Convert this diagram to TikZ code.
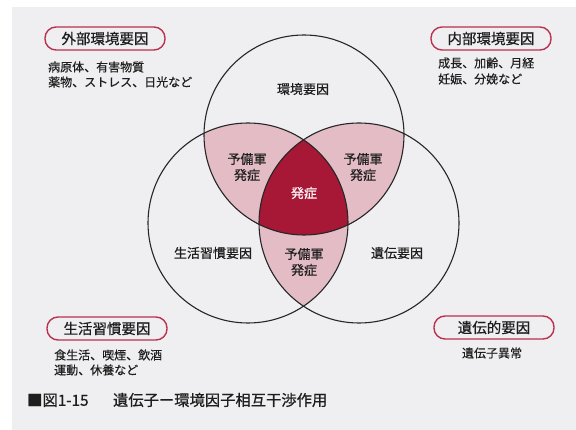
\documentclass[tikz,border=0pt]{standalone}
\usepackage{fontspec}
\setmainfont{Noto Sans CJK JP}
\newfontfamily\medfont{Noto Sans CJK JP}[FakeBold=0.6]
\newfontfamily\semfont{Noto Sans CJK JP}[FakeBold=0.3]
\definecolor{bgray}{RGB}{239,239,241}
\definecolor{pinkfill}{RGB}{228,188,198}
\definecolor{darkred}{RGB}{166,24,54}
\definecolor{tagred}{RGB}{186,48,78}
\definecolor{txt}{RGB}{30,30,30}
\begin{document}
\begin{tikzpicture}[x=1pt,y=-1pt,
  circ/.style={draw=black!85,line width=1.1pt},
  tag/.style={draw=tagred,line width=1.4pt,rounded corners=11pt,minimum width=120pt,minimum height=23pt,inner sep=0pt,font=\medfont\fontsize{14.5}{15}\selectfont,text=txt},
  sub/.style={anchor=west,inner sep=0pt,font=\semfont\fontsize{12}{13}\selectfont,text=txt},
  lab/.style={inner sep=0pt,font=\medfont\fontsize{13}{16}\selectfont,text=txt,align=center}]
\useasboundingbox (0,0) rectangle (576,430);
\fill[white] (0,0) rectangle (576,430);
\fill[bgray] (12,7) rectangle (576,430);
% circle centres
\coordinate (T) at (304,135);
\coordinate (L) at (248,223);
\coordinate (R) at (359,223);
% pairwise overlaps
\begin{scope}\clip (T) circle (100); \fill[pinkfill] (L) circle (100); \fill[pinkfill] (R) circle (100);\end{scope}
\begin{scope}\clip (L) circle (100); \fill[pinkfill] (R) circle (100);\end{scope}
% triple overlap
\begin{scope}\clip (T) circle (100); \clip (L) circle (100); \fill[darkred] (R) circle (100);\end{scope}
\draw[circ] (T) circle (100);
\draw[circ] (L) circle (100);
\draw[circ] (R) circle (100);
% circle labels
\node[lab] (env) at (303,89) {環境要因};
\node[lab] (life) at (213,253) {生活習慣要因};
\node[lab] (gen) at (397,253) {遺伝要因};
\node[lab] (p1) at (247,167) {予備軍\\発症};
\node[lab] (p2) at (363,167) {予備軍\\発症};
\node[lab] (p3) at (304,262) {予備軍\\発症};
\node[lab,text=white!90!pink] (core) at (304,193) {発症};
% tags
\node[tag] (ext) at (105,38.5) {外部環境要因};
\node[sub] (ext1) at (48,67) {病原体、有害物質};
\node[sub] (ext2) at (48,82) {薬物、ストレス、日光など};
\node[tag] (int) at (491,38.5) {内部環境要因};
\node[sub] (int1) at (438,63) {成長、加齢、月経};
\node[sub] (int2) at (438,79) {妊娠、分娩など};
\node[tag] (lf) at (107,328.5) {生活習慣要因};
\node[sub] (lf1) at (54,355) {食生活、喫煙、飲酒};
\node[sub] (lf2) at (54,370) {運動、休養など};
\node[tag] (gf) at (494,327.5) {遺伝的要因};
\node[inner sep=0pt,font=\semfont\fontsize{12}{13}\selectfont,text=txt] (gf1) at (492,353) {遺伝子異常};
% caption
\node[anchor=west,inner sep=0pt,font=\medfont\fontsize{15.3}{16}\selectfont,text=txt] (cap) at (27,400) {■図1-15\hspace{1.6em}遺伝子ー環境因子相互干渉作用};
\end{tikzpicture}
\end{document}
